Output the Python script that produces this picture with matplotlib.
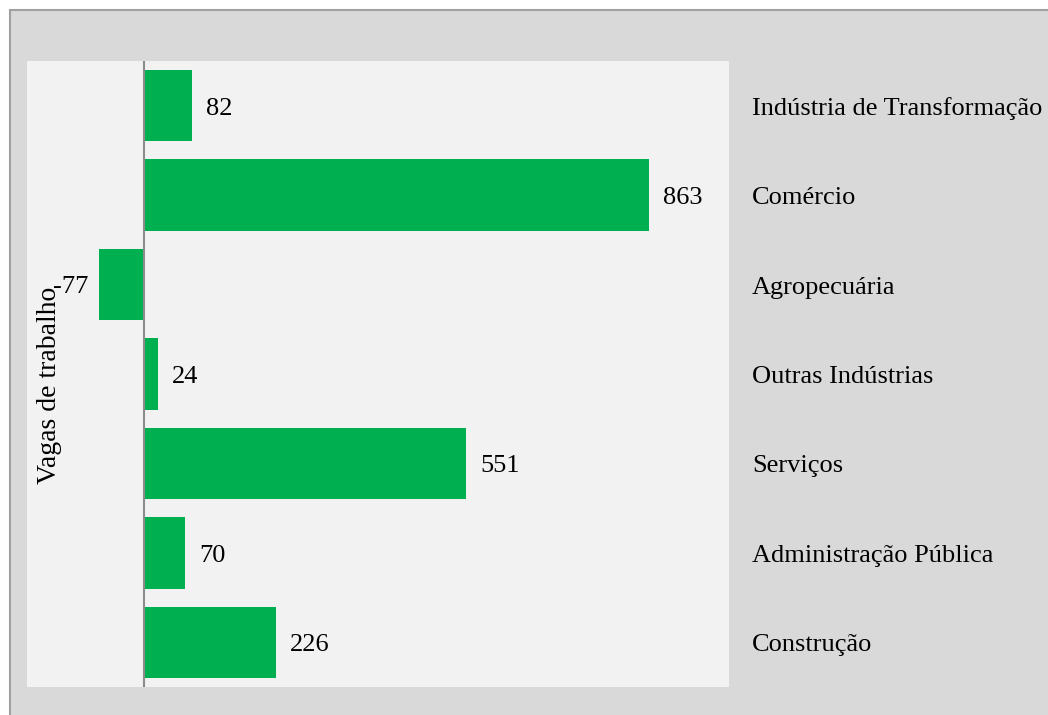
import matplotlib
matplotlib.use("Agg")
import matplotlib.pyplot as plt
from matplotlib.patches import Rectangle
from matplotlib.transforms import blended_transform_factory, offset_copy

categories = ["Indústria de Transformação", "Comércio", "Agropecuária",
              "Outras Indústrias", "Serviços", "Administração Pública", "Construção"]
values = [82, 863, -77, 24, 551, 70, 226]
y_label = "Vagas de trabalho"

W, H = 1048, 715
plt.rcParams['font.family'] = ['Liberation Serif', 'DejaVu Serif']
fig = plt.figure(figsize=(W / 100, H / 100), dpi=100)
fig.patch.set_facecolor('white')

# gray chart background box with border
fig.patches.append(Rectangle((10 / W, -0.05), 1.2, 1 - 10 / H + 0.05,
                             transform=fig.transFigure, facecolor='#d9d9d9',
                             edgecolor='#a0a0a0', linewidth=1.5, zorder=-10))

ax = fig.add_axes([27 / W, 1 - 687 / H, (729 - 27) / W, (687 - 61) / H])
ax.set_facecolor('#f2f2f2')
for s in ax.spines.values():
    s.set_visible(False)

ypos = list(range(len(categories)))
ax.barh(ypos, values, height=0.8, color='#00b050', zorder=2)
ax.axvline(0, color='#8c8c8c', linewidth=1.5, zorder=3)
ax.set_xlim(-200, 1000)
ax.set_ylim(6.5, -0.5)
ax.set_xticks([])
ax.set_yticks([])

fs = 19
for y, v in zip(ypos, values):
    if v >= 0:
        tr = offset_copy(ax.transData, fig=fig, x=14, y=-3, units='dots')
        ax.text(v, y, str(v), transform=tr, ha='left', va='center', fontsize=fs, color='black')
    else:
        tr = offset_copy(ax.transData, fig=fig, x=-11, y=-2, units='dots')
        ax.text(v, y, str(v), transform=tr, ha='right', va='center', fontsize=fs, color='black')

bt = blended_transform_factory(fig.transFigure, ax.transData)
bt = offset_copy(bt, fig=fig, x=0, y=-3, units='dots')
for y, c in zip(ypos, categories):
    fig.text(752 / W, y, c, transform=bt, ha='left', va='center', fontsize=fs, color='black')

fig.text(50 / W, 1 - 385 / H, y_label, rotation=90, ha='center', va='center',
         fontsize=20, color='black')

fig.savefig('out.png', dpi=100)
